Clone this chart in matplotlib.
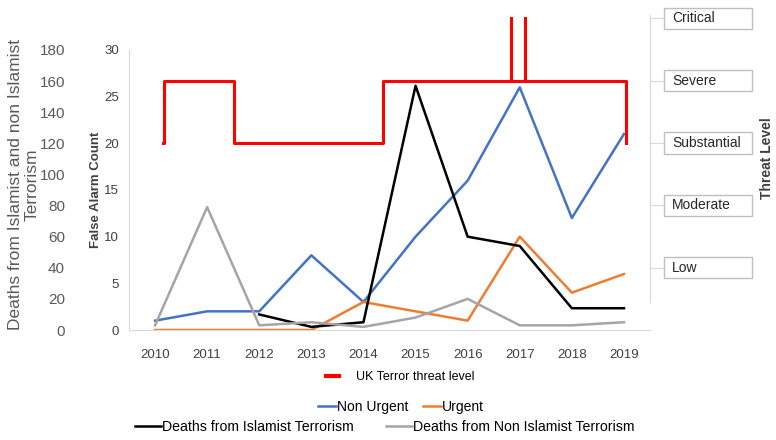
import matplotlib.pyplot as plt
from matplotlib.lines import Line2D
from matplotlib.patches import Rectangle
from matplotlib.transforms import blended_transform_factory

# Données
years = [2010, 2011, 2012, 2013, 2014, 2015, 2016, 2017, 2018, 2019]
non_urgent = [1, 2, 2, 8, 3, 10, 16, 26, 12, 21]
urgent = [0, 0, 0, 0, 3, 2, 1, 10, 4, 6]

death_years = [2012, 2013, 2014, 2015, 2016, 2017, 2018, 2019]
deaths_islamist = [10, 2, 5, 157, 60, 54, 14, 14]
deaths_non_islamist = [3, 79, 3, 5, 2, 8, 20, 3, 3, 5]

threat_names = ['Low', 'Moderate', 'Substantial', 'Severe', 'Critical']
threat_dates = [2010.16, 2010.18, 2011.51, 2014.37, 2016.83, 2016.84, 2017.10, 2017.11, 2019.04]
threat_levels = [3, 4, 3, 4, 5, 4, 5, 4, 3]

# Couleurs
c_blue = '#4472C4'
c_orange = '#ED7D31'
c_gray = '#A5A5A5'
c_red = '#FF0000'
c_axis = '#D9D9D9'

plt.rcParams['font.family'] = ['Liberation Sans', 'DejaVu Sans']

fig = plt.figure(figsize=(7.76, 4.4), dpi=100)
L, W = 129 / 776, 521 / 776
B = 1 - 330 / 440

# Axe principal : nombre de fausses alertes
ax = fig.add_axes([L, B, W, 280 / 440])
ax.plot(years, non_urgent, color=c_blue, lw=1.8)
ax.plot(years, urgent, color=c_orange, lw=1.8)
ax.set_xlim(2009.5, 2019.5)
ax.set_ylim(0, 30)
ax.set_xticks(years)
ax.set_yticks(range(0, 31, 5))
ax.tick_params(axis='x', length=0, pad=14, labelsize=9.5, labelcolor='#404040')
ax.tick_params(axis='y', length=0, pad=7, labelsize=9.5, labelcolor='#404040')
for s in ['top', 'right']:
    ax.spines[s].set_visible(False)
ax.spines['left'].set_color(c_axis)
ax.spines['bottom'].set_color(c_axis)

# Axe des décès (à gauche)
ax_d = ax.twinx()
ax_d.plot(death_years, deaths_islamist, color='black', lw=1.8)
ax_d.plot(years, deaths_non_islamist, color=c_gray, lw=1.8)
ax_d.set_ylim(0, 180)
ax_d.set_yticks(range(0, 181, 20))
ax_d.yaxis.set_ticks_position('left')
ax_d.spines['left'].set_position(('axes', -0.123))
for s in ax_d.spines.values():
    s.set_visible(False)
ax_d.tick_params(axis='y', length=0, pad=0, labelsize=11, labelcolor='#595959')

# Axe du niveau de menace (à droite)
ax3 = fig.add_axes([L, B, W, 318 / 440])
ax3.patch.set_visible(False)
ax3.step(threat_dates, threat_levels, where='post', color=c_red, lw=2.2)
ax3.set_xlim(2009.5, 2019.5)
ax3.set_ylim(0, 5.1)
ax3.set_xticks([])
ax3.set_yticks(range(1, 6))
ax3.yaxis.set_ticks_position('right')
ax3.tick_params(axis='y', length=10, color=c_axis, labelright=False)
for s in ['top', 'left', 'bottom']:
    ax3.spines[s].set_visible(False)
ax3.spines['right'].set_color(c_axis)
ax3.spines['right'].set_bounds(0.45, 5.05)

tr = blended_transform_factory(ax3.transAxes, ax3.transData)
for i, name in enumerate(threat_names):
    lvl = i + 1
    ax3.add_patch(Rectangle((1.027, lvl - 0.17), 0.169, 0.34, transform=tr,
                            facecolor='white', edgecolor='#BFBFBF', lw=1, clip_on=False))
    ax3.text(1.042, lvl, name, transform=tr, va='center', ha='left',
             fontsize=10, color='#262626')

# Titres des axes
fig.text(24 / 776, 1 - 185 / 440, 'Deaths from Islamist and non Islamist\nTerrorism',
         rotation=90, ha='center', va='center', fontsize=12.5, color='#595959',
         multialignment='center', linespacing=1.1)
fig.text(96 / 776, 1 - 190 / 440, 'False Alarm Count', rotation=90, ha='center',
         va='center', fontsize=9.5, color='#404040', fontweight='bold')
fig.text(767 / 776, 1 - 158 / 440, 'Threat Level', rotation=90, ha='center',
         va='center', fontsize=10, color='#404040', fontweight='bold')

# Légendes
leg_kw = dict(frameon=False, loc='center', borderpad=0)
fig.legend([Line2D([], [], color=c_red, lw=3)], ['UK Terror threat level'],
           bbox_to_anchor=(400 / 776, 1 - 377 / 440), handlelength=1.1,
           handletextpad=1.3, fontsize=9, **leg_kw)
fig.legend([Line2D([], [], color=c_blue, lw=1.8), Line2D([], [], color=c_orange, lw=1.8)],
           ['Non Urgent', 'Urgent'], ncol=2, bbox_to_anchor=(401 / 776, 1 - 407 / 440),
           handlelength=1.3, handletextpad=0.1, columnspacing=1.0, fontsize=10, **leg_kw)
fig.legend([Line2D([], [], color='black', lw=1.8), Line2D([], [], color=c_gray, lw=1.8)],
           ['Deaths from Islamist Terrorism', 'Deaths from Non Islamist Terrorism'],
           ncol=2, bbox_to_anchor=(385 / 776, 1 - 427 / 440), handlelength=1.8,
           handletextpad=0.1, columnspacing=2.3, fontsize=10.2, **leg_kw)

plt.savefig('out.png', dpi=100)
